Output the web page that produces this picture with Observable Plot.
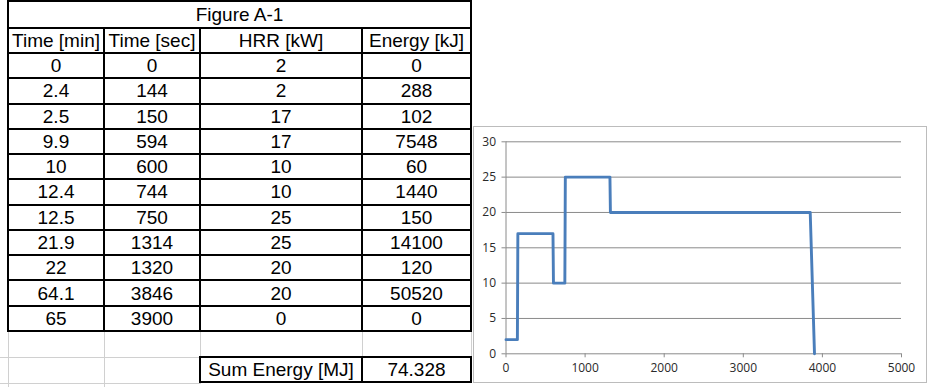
<!DOCTYPE html>
<html>
<head>
<meta charset="utf-8">
<script src="https://cdn.jsdelivr.net/npm/d3@7"></script>
<script src="https://cdn.jsdelivr.net/npm/@observablehq/plot@0.6"></script>
<style>
  html, body { margin: 0; padding: 0; background: #fff; width: 930px; height: 387px; overflow: hidden; }
  #sheet { position: relative; width: 930px; height: 387px; font-family: "Liberation Sans", Arial, sans-serif; }
  .cell { position: absolute; display: flex; align-items: center; justify-content: center;
          font-size: 19px; color: #000; white-space: nowrap; line-height: 1; }
  .ln { position: absolute; }
  #frame { position: absolute; left: 473px; top: 126px; width: 454px; height: 257px;
           box-sizing: border-box; border: 1px solid #bcbcbc; background: #fff; }
  #chart { position: absolute; left: 473px; top: 126px; }
</style>
</head>
<body>
<div id="sheet"></div>
<script>
// Heat release rate schedule (Figure A-1)
const title = "Figure A-1";
const headers = ["Time [min]", "Time [sec]", "HRR [kW]", "Energy [kJ]"];
const timeMin = [0, 2.4, 2.5, 9.9, 10, 12.4, 12.5, 21.9, 22, 64.1, 65];
const timeSec = [0, 144, 150, 594, 600, 744, 750, 1314, 1320, 3846, 3900];
const hrrKW = [2, 2, 17, 17, 10, 10, 25, 25, 20, 20, 0];
const energyKJ = [0, 288, 102, 7548, 60, 1440, 150, 14100, 120, 50520, 0];
const sumLabel = "Sum Energy [MJ]";
const xTicks = [0, 1000, 2000, 3000, 4000, 5000];
const yTicks = [0, 5, 10, 15, 20, 25, 30];

const sumEnergyMJ = d3.sum(energyKJ) / 1000;

// ---- spreadsheet table ----
const sheet = document.getElementById("sheet");
const colX = [8, 104, 200, 362, 471];
const rowH = 25.27;
const topY = 1.3, titleY = 28, headY = 53;
const dataBottom = headY + timeMin.length * rowH;
const blankBottom = 357, sumBottom = 382;

function cell(text, x1, x2, y1, y2) {
  const d = document.createElement("div");
  d.className = "cell";
  Object.assign(d.style, {left: x1 + "px", top: y1 + "px", width: (x2 - x1) + "px", height: (y2 - y1) + "px"});
  d.textContent = text;
  sheet.appendChild(d);
}
function hline(x1, x2, y, color, w) {
  const d = document.createElement("div");
  d.className = "ln";
  Object.assign(d.style, {left: (x1 - w / 2) + "px", top: (y - w / 2) + "px", width: (x2 - x1 + w) + "px", height: w + "px", background: color});
  sheet.appendChild(d);
}
function vline(x, y1, y2, color, w) {
  const d = document.createElement("div");
  d.className = "ln";
  Object.assign(d.style, {left: (x - w / 2) + "px", top: (y1 - w / 2) + "px", width: w + "px", height: (y2 - y1 + w) + "px", background: color});
  sheet.appendChild(d);
}

const black = "#000", grid = "#d0d0d0";

// light sheet gridlines under the table
[colX[0], colX[1], colX[2], colX[3], colX[4]].forEach(x => vline(x, dataBottom, blankBottom, grid, 1));
[colX[0], colX[1]].forEach(x => vline(x, blankBottom, 387, grid, 1));
hline(0, colX[2], blankBottom, grid, 1);
hline(0, colX[2], 383.5, grid, 1);

// text
cell(title, colX[0], colX[4], topY, titleY);
headers.forEach((h, j) => cell(h, colX[j], colX[j + 1], titleY, headY));
const columns = [timeMin, timeSec, hrrKW, energyKJ];
timeMin.forEach((_, i) => {
  const y1 = headY + i * rowH, y2 = y1 + rowH;
  columns.forEach((col, j) => cell(String(col[i]), colX[j], colX[j + 1], y1, y2));
});
cell(sumLabel, colX[2], colX[3], blankBottom, sumBottom);
cell(String(+sumEnergyMJ.toFixed(3)), colX[3], colX[4], blankBottom, sumBottom);

// black cell borders
hline(colX[0], colX[4], topY, black, 2);
hline(colX[0], colX[4], titleY, black, 2);
hline(colX[0], colX[4], headY, black, 2);
for (let i = 1; i <= timeMin.length; i++) hline(colX[0], colX[4], headY + i * rowH, black, 2);
vline(colX[0], topY, dataBottom, black, 2);
vline(colX[4], topY, dataBottom, black, 2);
[colX[1], colX[2], colX[3]].forEach(x => vline(x, titleY, dataBottom, black, 2));
hline(colX[2], colX[4], blankBottom, black, 2);
hline(colX[2], colX[4], sumBottom, black, 2);
[colX[2], colX[3], colX[4]].forEach(x => vline(x, blankBottom, sumBottom, black, 2));

// ---- HRR chart ----
const frame = document.createElement("div");
frame.id = "frame";
sheet.appendChild(frame);

const points = timeSec.map((t, i) => ({t, hrr: hrrKW[i]}));
const axisGray = "#8a8a8a";
const labelColor = "#2a2a2a";
const tickFont = 12;
const chart = Plot.plot({
  width: 454,
  height: 257,
  marginLeft: 32.5,
  marginRight: 26,
  marginTop: 15.3,
  marginBottom: 29.7,
  style: {fontFamily: "'Open Sans', Lato, sans-serif", fontSize: tickFont + "px", background: "transparent", color: labelColor},
  x: {domain: [0, 5000]},
  y: {domain: [0, 30]},
  marks: [
    Plot.gridY(yTicks, {stroke: axisGray, strokeOpacity: 1}),
    Plot.ruleX([0], {stroke: axisGray}),
    Plot.axisY(yTicks, {tickSize: 4, tickPadding: 6, fontSize: tickFont, stroke: axisGray, fill: labelColor, label: null, tickFormat: d => `${d}`}),
    Plot.axisX(xTicks, {tickSize: 4, tickPadding: 6, fontSize: tickFont, stroke: axisGray, fill: labelColor, label: null, tickFormat: d => `${d}`}),
    Plot.line(points, {x: "t", y: "hrr", stroke: "#4a7ebb", strokeWidth: 2.9, strokeLinejoin: "round"})
  ]
});
chart.id = "chart";
sheet.appendChild(chart);
</script>
</body>
</html>
